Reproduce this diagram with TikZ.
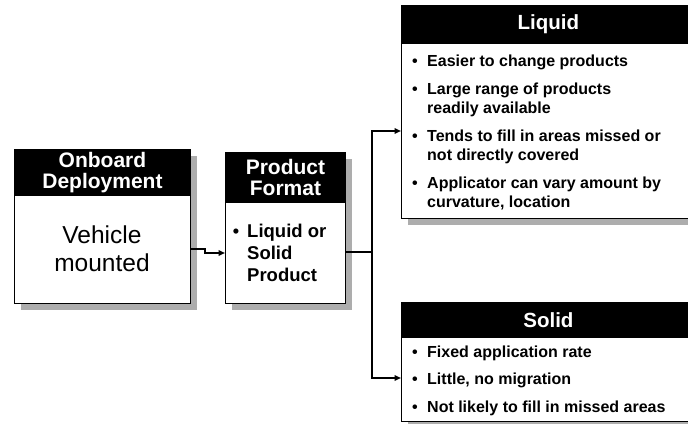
\documentclass[tikz,border=0pt]{standalone}
\usepackage{fontspec}
\setmainfont{Liberation Sans}
\usetikzlibrary{arrows.meta,shadows,calc}
% left-aligned lines whose reference point is the first baseline
\newcommand{\itemlines}[1]{\begin{tabular}[t]{@{}l@{}}#1\end{tabular}}
\begin{document}
\begin{tikzpicture}[x=1pt,y=-1pt,
  panel/.style={draw=black,line width=0.9pt,fill=white,inner sep=0pt,anchor=north west,
    drop shadow={shadow xshift=7pt,shadow yshift=-7pt,fill=black!32,opacity=1}},
  hdr/.style={draw=black,line width=0.9pt,fill=black,text=white,inner sep=0pt,
    anchor=north west,align=center,font=\bfseries\fontsize{21}{20.5}\selectfont},
  pointtext/.style={anchor=base west,inner sep=0pt,
    font=\bfseries\fontsize{16}{19}\selectfont},
  dot/.style={anchor=base,inner sep=0pt,font=\bfseries\fontsize{16}{19}\selectfont},
  conn/.style={line width=1.6pt,line join=miter},
  arrowend/.style={-{Triangle[length=6.5pt,width=5.5pt]}}]
\clip (0,0) rectangle (688,423);
\fill[white] (0,0) rectangle (688,423);

% Onboard deployment
\node[panel,minimum width=176pt,minimum height=154pt] (onb) at (14,149) {};
\node[hdr,minimum width=176pt,minimum height=46pt] (onbh) at (14,149) {Onboard\\Deployment};
\node[align=center,inner sep=0pt,font=\fontsize{24.5}{28}\selectfont] (onbt) at (102,249) {Vehicle\\mounted};

% Product format
\node[panel,minimum width=120pt,minimum height=151pt] (prod) at (225,152) {};
\node[hdr,minimum width=120pt,minimum height=50pt] (prodh) at (225,152) {Product\\Format};
\node[dot,font=\bfseries\fontsize{18}{22}\selectfont] (prodb) at (236,237) {•};
\node[pointtext,font=\bfseries\fontsize{18.5}{22}\selectfont] (prodt) at (247,237) {\itemlines{Liquid or\\Solid\\Product}};

% Liquid
\node[panel,minimum width=294pt,minimum height=213pt] (liq) at (401,5) {};
\node[hdr,minimum width=294pt,minimum height=38pt,font=\bfseries\fontsize{20.5}{20.5}\selectfont] (liqh) at (401,5) {Liquid};
\node[dot] (lb1) at (415,66) {•};
\node[pointtext] (lt1) at (427,66) {Easier to change products};
\node[dot] (lb2) at (415,94) {•};
\node[pointtext] (lt2) at (427,94) {\itemlines{Large range of products\\readily available}};
\node[dot] (lb3) at (415,141) {•};
\node[pointtext] (lt3) at (427,141) {\itemlines{Tends to fill in areas missed or\\not directly covered}};
\node[dot] (lb4) at (415,188) {•};
\node[pointtext] (lt4) at (427,188) {\itemlines{Applicator can vary amount by\\curvature, location}};

% Solid
\node[panel,minimum width=294pt,minimum height=119pt] (sol) at (401,302) {};
\node[hdr,minimum width=294pt,minimum height=35pt,font=\bfseries\fontsize{20.5}{20.5}\selectfont] (solh) at (401,302) {Solid};
\node[dot] (sb1) at (415,357) {•};
\node[pointtext] (st1) at (427,357) {Fixed application rate};
\node[dot] (sb2) at (415,384.5) {•};
\node[pointtext] (st2) at (427,384.5) {Little, no migration};
\node[dot] (sb3) at (415,412) {•};
\node[pointtext] (st3) at (427,412) {Not likely to fill in missed areas};

% Connectors
\coordinate (j1) at (205,249);
\coordinate (j2) at (205,253);
\draw[conn,arrowend] (onb.east |- j1) -- (j1) -- (j2) -- (prod.west |- j2);

\coordinate (tr) at (372,252);
\coordinate (tl) at (372,131);
\coordinate (ts) at (372,378);
\draw[conn] (prod.east |- tr) -- (tr);
\draw[conn,arrowend] (ts) -- (tl) -- (liq.west |- tl);
\draw[conn,arrowend] (tl) -- (ts) -- (sol.west |- ts);
\end{tikzpicture}
\end{document}
